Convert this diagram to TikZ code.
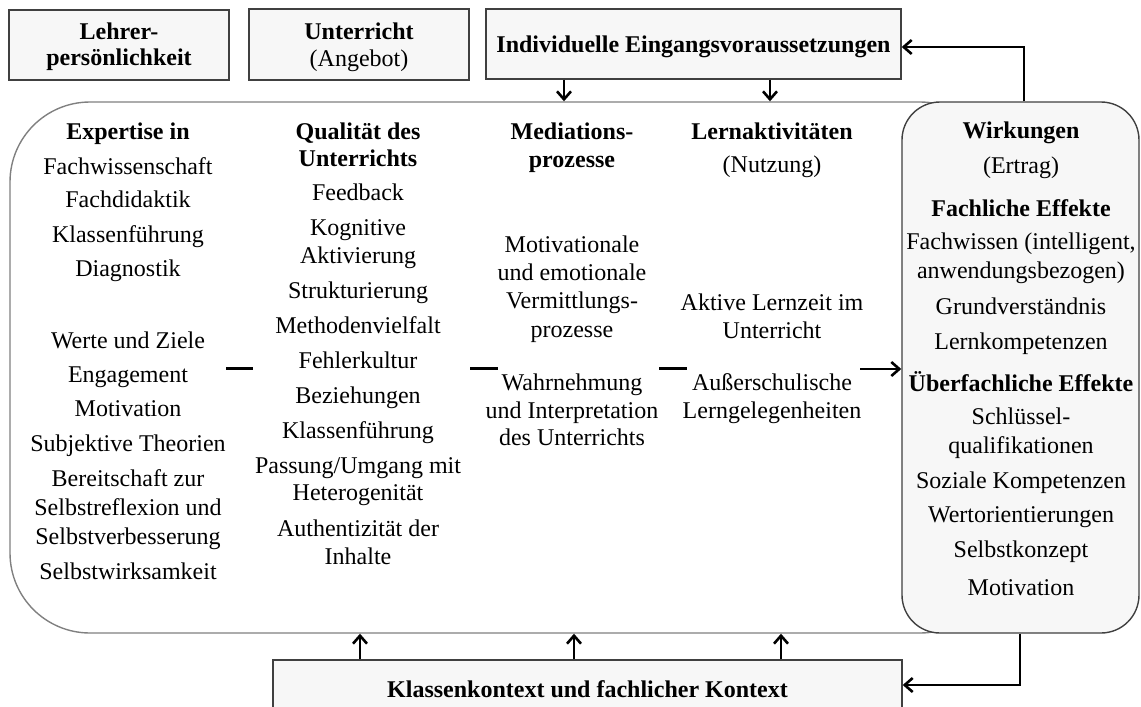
\documentclass[tikz,border=0pt]{standalone}
\usepackage{fontspec}
\setmainfont{Liberation Serif}
\usetikzlibrary{arrows.meta,calc}
\definecolor{boxfill}{HTML}{F7F7F7}
\definecolor{boxline}{HTML}{404040}
\definecolor{frameline}{HTML}{808080}
\tikzset{
  hdrbox/.style={draw=boxline, line width=0.7pt, fill=boxfill, inner sep=0pt},
  lbl/.style={font=\fontsize{12}{14}\selectfont, anchor=base, inner sep=0pt},
  hdr/.style={lbl, font=\fontsize{12}{14}\selectfont\bfseries},
  arr/.style={line width=1.3pt, -{Straight Barb[length=4pt,width=7pt]}},
  sepline/.style={line width=1.5pt},
}
\begin{document}
\begin{tikzpicture}[x=0.5pt,y=-0.5pt]
\clip (0,0) rectangle (1141,707);

% header boxes
\node[hdrbox, minimum width=110pt, minimum height=35pt] (lehrer) at (119,45) {};
\node[hdrbox, minimum width=110pt, minimum height=35.5pt] (unterricht) at (359,44.5) {};
\node[hdrbox, minimum width=207.5pt, minimum height=35pt] (ind) at (693.5,44) {};
\node[hdr] (lehrer-1) at (119,39) {Lehrer-};
\node[hdr] (lehrer-2) at (119,65) {persönlichkeit};
\node[hdr] (unterricht-1) at (359,39) {Unterricht};
\node[lbl] (unterricht-2) at (359,66) {(Angebot)};
\node[hdr] (ind-1) at (693.5,52) {Individuelle Eingangsvoraussetzungen};

% process frame and outcome box
\node[draw=frameline, fill=white, line width=0.7pt, rounded corners=40pt, inner sep=0pt,
      minimum width=495pt, minimum height=265.5pt] (proc) at (505,367.5) {};
\node[draw=boxline, fill=boxfill, line width=0.7pt, rounded corners=19pt, inner sep=0pt,
      minimum width=118.5pt, minimum height=265.5pt] (wirk) at (1020.5,367.5) {};

% context box
\node[hdrbox, minimum width=314.5pt, minimum height=31pt] (kontext) at (587.5,691) {};
\node[hdr] (kontext-1) at (587.5,697) {Klassenkontext und fachlicher Kontext};

% column: teacher expertise
\foreach \yy/\txt [count=\i] in {
  133/{\bfseries Expertise in}, 168/Fachwissenschaft, 201/Fachdidaktik, 236/Klassenführung,
  270/Diagnostik, 342/Werte und Ziele, 376/Engagement, 410/Motivation,
  445/Subjektive Theorien, 480/Bereitschaft zur, 509/Selbstreflexion und,
  538/Selbstverbesserung, 573/Selbstwirksamkeit}
  \node[lbl] (expert-\i) at (128,{\yy+6}) {\txt};

% column: teaching quality
\foreach \yy/\txt [count=\i] in {
  133/{\bfseries Qualität des}, 160/{\bfseries Unterrichts}, 194/Feedback, 229/Kognitive,
  257/Aktivierung, 292/Strukturierung, 327/Methodenvielfalt, 362/Fehlerkultur,
  397/Beziehungen, 432/Klassenführung, 467/{Passung/Umgang mit}, 494/Heterogenität,
  530/Authentizität der, 558/Inhalte}
  \node[lbl] (quality-\i) at (358,{\yy+6}) {\txt};

% column: mediation
\foreach \yy/\txt [count=\i] in {
  133/{\bfseries Mediations-}, 161/{\bfseries prozesse}, 246/Motivationale,
  274/und emotionale, 302/Vermittlungs-, 331/prozesse, 384/Wahrnehmung,
  412/und Interpretation, 439/des Unterrichts}
  \node[lbl] (mediation-\i) at (572,{\yy+6}) {\txt};

% column: learning activities
\foreach \yy/\txt [count=\i] in {
  133/{\bfseries Lernaktivitäten}, 166/(Nutzung), 304/Aktive Lernzeit im,
  332/Unterricht, 384/Außerschulische, 412/Lerngelegenheiten}
  \node[lbl] (activity-\i) at (772,{\yy+6}) {\txt};

% column: outcomes
\foreach \yy/\txt [count=\i] in {
  132/{\bfseries Wirkungen}, 167/(Ertrag), 210/{\bfseries Fachliche Effekte},
  243/{Fachwissen (intelligent,}, 272/anwendungsbezogen), 308/Grundverständnis,
  343/Lernkompetenzen, 385/{\bfseries Überfachliche Effekte}, 418/Schlüssel-,
  447/qualifikationen, 482/Soziale Kompetenzen, 516/Wertorientierungen,
  551/Selbstkonzept, 589/Motivation}
  \node[lbl] (outcome-\i) at (1021,{\yy+6}) {\txt};

% separators between columns
\coordinate (s1a) at (226,368); \coordinate (s1b) at (253,368);
\coordinate (s2a) at (470,368); \coordinate (s2b) at (498,368);
\coordinate (s3a) at (659,368); \coordinate (s3b) at (687,368);
\coordinate (s4a) at (860,369);
\draw[sepline] (s1a) -- (s1b);
\draw[sepline] (s2a) -- (s2b);
\draw[sepline] (s3a) -- (s3b);
\draw[arr] (s4a) -- (s4a -| wirk.west);

% arrows from entry prerequisites
\coordinate (d1) at (564,0); \coordinate (d2) at (770,0);
\draw[arr] (ind.south -| d1) -- (proc.north -| d1);
\draw[arr] (ind.south -| d2) -- (proc.north -| d2);

% arrows from context
\coordinate (u1) at (360,0); \coordinate (u2) at (574,0); \coordinate (u3) at (781,0);
\draw[arr] (kontext.north -| u1) -- (proc.south -| u1);
\draw[arr] (kontext.north -| u2) -- (proc.south -| u2);
\draw[arr] (kontext.north -| u3) -- (proc.south -| u3);

% feedback loops
\coordinate (fb1) at (1024,0); \coordinate (fb2) at (1020,0);
\draw[arr] (wirk.north -| fb1) |- ($(ind.east)+(0,3)$);
\draw[arr] (wirk.south -| fb2) |- ($(kontext.east)+(0,-6)$);
\end{tikzpicture}
\end{document}
